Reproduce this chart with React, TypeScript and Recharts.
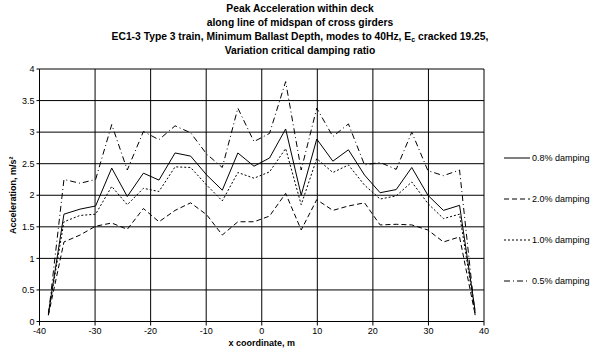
import React from "react";
import { LineChart, Line, XAxis, YAxis, CartesianGrid } from "recharts";

// x coordinate of each output node along the midspan line (m)
const xCoords = [
  -38.4, -35.6, -32.7, -29.9, -27.0, -24.2, -21.3, -18.5, -15.6, -12.8, -9.9, -7.1, -4.3, -1.4,
  1.4, 4.3, 7.1, 9.9, 12.8, 15.6, 18.5, 21.3, 24.2, 27.0, 29.9, 32.7, 35.6, 38.4,
];

// peak acceleration (m/s2) per damping ratio
const damp08 = [
  0.13, 1.7, 1.78, 1.83, 2.43, 1.98, 2.35, 2.24, 2.67, 2.62, 2.32, 2.08, 2.67, 2.46,
  2.59, 3.05, 2.0, 2.89, 2.54, 2.72, 2.32, 2.04, 2.09, 2.44, 2.0, 1.76, 1.84, 0.17,
];
const damp20 = [
  0.1, 1.26, 1.37, 1.51, 1.56, 1.46, 1.79, 1.58, 1.76, 1.88, 1.69, 1.37, 1.58, 1.58,
  1.67, 2.03, 1.45, 1.93, 1.76, 1.83, 1.88, 1.53, 1.54, 1.53, 1.45, 1.26, 1.34, 0.11,
];
const damp10 = [
  0.12, 1.58, 1.68, 1.7, 2.14, 1.85, 2.11, 2.06, 2.45, 2.44, 2.16, 1.91, 2.36, 2.27,
  2.37, 2.74, 1.85, 2.58, 2.36, 2.48, 2.16, 1.94, 1.99, 2.21, 1.87, 1.63, 1.7, 0.14,
];
const damp05 = [
  0.1, 2.25, 2.19, 2.25, 3.12, 2.4, 3.01, 2.88, 3.1, 2.99, 2.65, 2.44, 3.38, 2.85,
  2.98, 3.8, 2.4, 3.38, 2.93, 3.13, 2.48, 2.52, 2.41, 3.0, 2.39, 2.31, 2.4, 0.1,
];

const xTicks = [-40, -30, -20, -10, 0, 10, 20, 30, 40];
const yTicks = [0, 0.5, 1, 1.5, 2, 2.5, 3, 3.5, 4];

const series = [
  { key: "d08", name: "0.8% damping", dash: undefined },
  { key: "d20", name: "2.0% damping", dash: "5 3" },
  { key: "d10", name: "1.0% damping", dash: "2 2" },
  { key: "d05", name: "0.5% damping", dash: "6 3 1 3" },
];

const data = xCoords.map((x, i) => ({
  x,
  d08: damp08[i],
  d20: damp20[i],
  d10: damp10[i],
  d05: damp05[i],
}));

const font = '"Liberation Sans", Arial, sans-serif';
const tick = { fill: "#000", fontSize: 9, fontFamily: font };

export default function App() {
  return (
    <div
      style={{
        position: "absolute",
        left: 0,
        top: 0,
        width: 600,
        height: 364,
        background: "#fff",
        fontFamily: font,
      }}
    >
      <div
        style={{
          position: "absolute",
          left: 0,
          top: 2,
          width: 600,
          textAlign: "center",
          fontWeight: "bold",
          fontSize: 10.3,
          lineHeight: "14px",
        }}
      >
        <div style={{ height: 14 }}>Peak Acceleration within deck</div>
        <div style={{ height: 14 }}>along line of midspan of cross girders</div>
        <div style={{ height: 14 }}>
          EC1-3 Type 3 train, Minimum Ballast Depth, modes to 40Hz, E
          <span style={{ fontSize: 7, position: "relative", top: 2, lineHeight: 0 }}>c</span> cracked
          19.25,
        </div>
        <div style={{ height: 14 }}>Variation critical damping ratio</div>
      </div>

      <LineChart
        width={600}
        height={364}
        data={data}
        margin={{ top: 69, right: 116, left: 7.5, bottom: 12.5 }}
      >
        <CartesianGrid stroke="#000" strokeWidth={1} />
        <XAxis
          dataKey="x"
          type="number"
          domain={[-40, 40]}
          ticks={xTicks}
          height={30}
          tick={tick}
          tickSize={4}
          tickMargin={2}
          stroke="#000"
          label={{
            value: "x coordinate, m",
            position: "insideBottom",
            offset: 6,
            style: { fontWeight: "bold", fontSize: 9, fill: "#000", fontFamily: font },
          }}
        />
        <YAxis
          type="number"
          domain={[0, 4]}
          ticks={yTicks}
          width={32}
          tick={tick}
          tickSize={3}
          tickMargin={2}
          stroke="#000"
          label={{
            value: "Acceleration, m/s²",
            angle: -90,
            position: "insideLeft",
            offset: 5,
            style: {
              fontWeight: "bold",
              fontSize: 9,
              fill: "#000",
              fontFamily: font,
              textAnchor: "middle",
            },
          }}
        />
        {series.map((s) => (
          <Line
            key={s.key}
            dataKey={s.key}
            name={s.name}
            type="linear"
            stroke="#000"
            strokeWidth={1}
            strokeDasharray={s.dash}
            dot={false}
            isAnimationActive={false}
          />
        ))}
      </LineChart>

      <div style={{ position: "absolute", left: 504, top: 137, fontSize: 9 }}>
        {series.map((s) => (
          <div key={s.key} style={{ display: "flex", alignItems: "center", height: 41 }}>
            <svg width={26} height={10}>
              <line x1={0} y1={5} x2={26} y2={5} stroke="#000" strokeDasharray={s.dash} />
            </svg>
            <span style={{ marginLeft: 2 }}>{s.name}</span>
          </div>
        ))}
      </div>
    </div>
  );
}
